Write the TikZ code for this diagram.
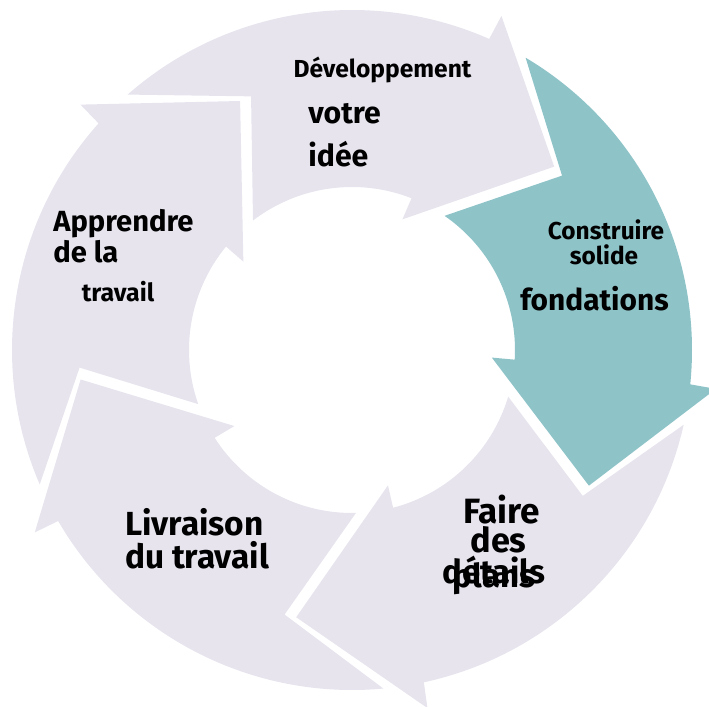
\documentclass[tikz,border=0pt]{standalone}
\usepackage{fontspec}
\setmainfont{Fira Sans}
\usepackage{tikz}

\definecolor{lavender}{RGB}{231,228,238}
\definecolor{tealish}{RGB}{142,195,200}

\begin{document}
\begin{tikzpicture}[x=0.02cm, y=0.02cm,
    txt/.style={inner sep=0pt, font=\bfseries}]
    \useasboundingbox (-352,-356) rectangle (357,350);
    % five curved arrows, tip angle / colour
    \foreach \t/\c in {42.2/lavender, -29.8/tealish, -101.8/lavender, -173.8/lavender, 114.2/lavender}
        \fill[\c] (\t:273) -- (\t+23.7:366) -- (\t+24:340)
            arc[start angle=\t+24, end angle=\t+89.1, radius=340]
            -- (\t+69.5:273) -- (\t+85.2:163)
            arc[start angle=\t+85.2, end angle=\t+26.4, radius=163]
            -- (\t+26.7:140) -- cycle;
    \node[txt, anchor=base, font=\bfseries\fontsize{14}{16}\selectfont] (dev) at (30.5, 272) {Développement};
    \node[txt, anchor=base west, font=\bfseries\fontsize{17.2}{20}\selectfont] (votre) at (-44, 226) {votre};
    \node[txt, anchor=base west, font=\bfseries\fontsize{17.2}{20}\selectfont] (idee) at (-44, 183) {idée};
    \node[txt, anchor=base, font=\bfseries\fontsize{13.9}{16}\selectfont] (constr) at (254, 110) {Construire};
    \node[txt, anchor=base, font=\bfseries\fontsize{13.9}{16}\selectfont] (solide) at (252, 85) {solide};
    \node[txt, anchor=base, font=\bfseries\fontsize{17}{20}\selectfont] (fond) at (242.5, 40) {fondations};
    \node[txt, anchor=base, font=\bfseries\fontsize{20}{22}\selectfont] (faire) at (150, -173) {Faire};
    \node[txt, anchor=base, font=\bfseries\fontsize{19.5}{22}\selectfont] (des) at (146.5, -202) {des};
    \node[txt, anchor=base, font=\bfseries\fontsize{18.7}{22}\selectfont] (details) at (142, -233) {détails};
    \node[txt, anchor=base, font=\bfseries\fontsize{18.7}{22}\selectfont] (plans) at (142, -237) {plans};
    \node[txt, anchor=base, font=\bfseries\fontsize{19}{22}\selectfont] (livr) at (-157.5, -185) {Livraison};
    \node[txt, anchor=base, font=\bfseries\fontsize{19}{22}\selectfont] (dutrav) at (-155, -218) {du travail};
    \node[txt, anchor=base west, font=\bfseries\fontsize{16.6}{19}\selectfont] (appr) at (-299, 118) {Apprendre};
    \node[txt, anchor=base west, font=\bfseries\fontsize{16.6}{19}\selectfont] (dela) at (-299, 87) {de la};
    \node[txt, anchor=base, font=\bfseries\fontsize{14.2}{17}\selectfont] (trav) at (-234, 49) {travail};
\end{tikzpicture}
\end{document}
